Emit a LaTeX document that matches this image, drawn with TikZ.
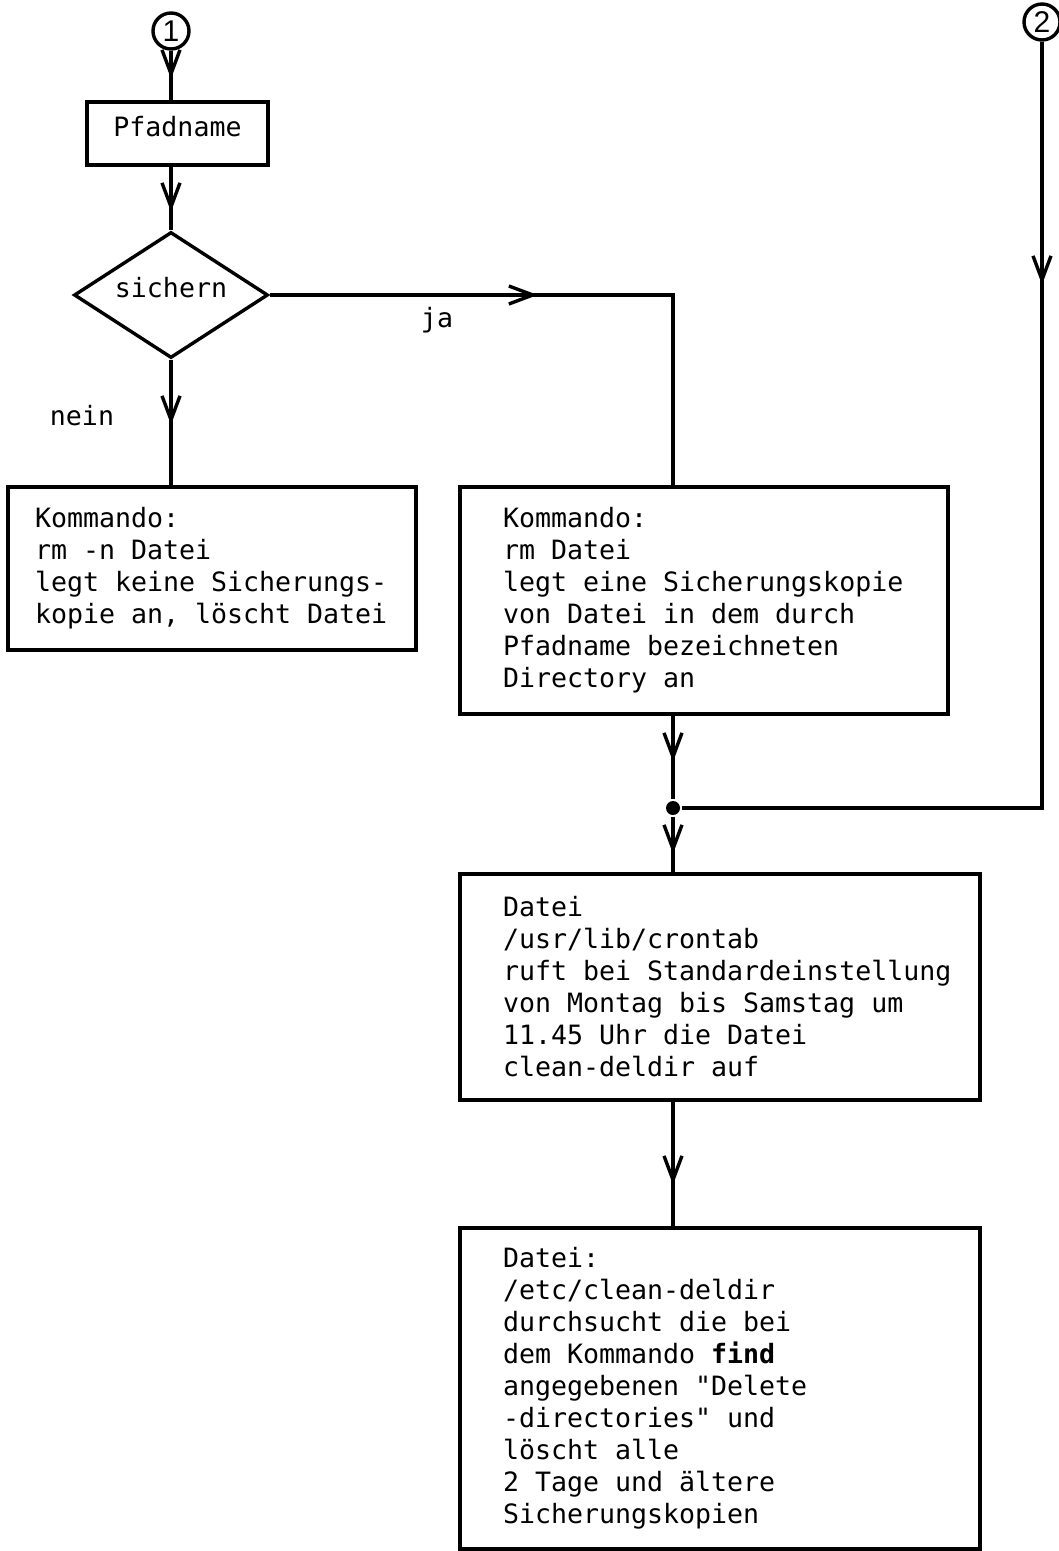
\documentclass[tikz,border=0pt]{standalone}
\usepackage{fontspec}
\setmainfont{DejaVu Sans}
\setmonofont{DejaVu Sans Mono}
\newfontfamily\ziffer{Liberation Sans}
\usetikzlibrary{arrows.meta,shapes.geometric,decorations.markings}
\newcommand{\schrift}{\ttfamily\fontsize{26.6}{32}\selectfont}

\begin{document}
\begin{tikzpicture}[x=1pt,y=-1pt,
    line width=3.4pt,
    every node/.style={font=\schrift},
    kasten/.style={draw, rectangle, inner sep=0pt, align=left,
      execute at begin node={\spaceskip 16pt\relax\xspaceskip 16pt\relax}},
    raute/.style={draw, diamond, aspect=1.54, inner sep=0pt, minimum width=194pt, minimum height=126pt},
    anschluss/.style={draw, circle, inner sep=0pt, minimum size=36pt, font=\ziffer\fontsize{30}{30}\selectfont},
    punkt/.style={circle, fill, inner sep=0pt, minimum size=14pt},
    pfeil/.style={postaction={decorate}, decoration={markings, mark=at position #1 with {\arrow{Straight Barb[length=24pt,width=18pt]}}}}]
    \path[use as bounding box, fill=white] (0,0) rectangle (1059,1551);

    % Anschlusspunkte
    \node[anschluss] (eins) at (171,31) {1};
    \node[anschluss] (zwei) at (1042,22) {2};

    % Pfadname
    \node[kasten, text depth=14pt, minimum width=181pt, minimum height=63pt] (pfad) at (177.5,133.5) {Pfadname};

    % sichern?
    \node[raute, text depth=16pt] (sichern) at (171,295) {sichern};
    \node (ja) at (437,320) {ja};
    \node (nein) at (82,416) {nein};

    % nein: rm -n
    \node[kasten, text width=354pt, minimum width=408pt, minimum height=163pt] (ohne) at (212,568.5)
      {Kommando:\\rm -n Datei\\legt keine Sicherungs-\\kopie an, löscht Datei};

    % ja: rm
    \node[kasten, text width=402pt, minimum width=488pt, minimum height=227pt] (mit) at (704,600.5)
      {Kommando:\\rm Datei\\legt eine Sicherungskopie\\von Datei in dem durch\\Pfadname bezeichneten\\Directory an};

    % Zusammenfuehrung
    \node[punkt] (knoten) at (673,808) {};

    % crontab
    \node[kasten, text width=434pt, minimum width=520pt, minimum height=226pt] (crontab) at (720,987)
      {Datei\\/usr/lib/crontab\\ruft~bei~Standardeinstellung\\von Montag bis Samstag um\\11.45 Uhr die Datei\\clean-deldir auf};

    % clean-deldir
    \node[kasten, text width=434pt, minimum width=520pt, minimum height=321pt] (deldir) at (720,1388.5)
      {Datei:\\/etc/clean-deldir\\durchsucht die bei\\dem Kommando \textbf{find}\\angegebenen "Delete\\-directories" und\\löscht alle\\2 Tage und ältere\\Sicherungskopien};

    % Verbindungen
    \draw[pfeil=28pt] (eins) -- (eins |- pfad.north);
    \draw[pfeil=45pt] (eins |- pfad.south) -- (sichern.north);
    \draw[pfeil=65pt] (sichern.south) -- (sichern.south |- ohne.north);
    \draw[pfeil=268pt] (sichern.east) -- (sichern.east -| knoten) -- (mit.north -| knoten);
    \draw[pfeil=46pt] (mit.south -| knoten) -- (knoten);
    \draw[pfeil=37pt] (knoten) -- (crontab.north -| knoten);
    \draw[pfeil=243pt] (zwei) -- (zwei |- knoten) -- (knoten);
    \draw[pfeil=83pt] (crontab.south -| knoten) -- (deldir.north -| knoten);
\end{tikzpicture}
\end{document}
